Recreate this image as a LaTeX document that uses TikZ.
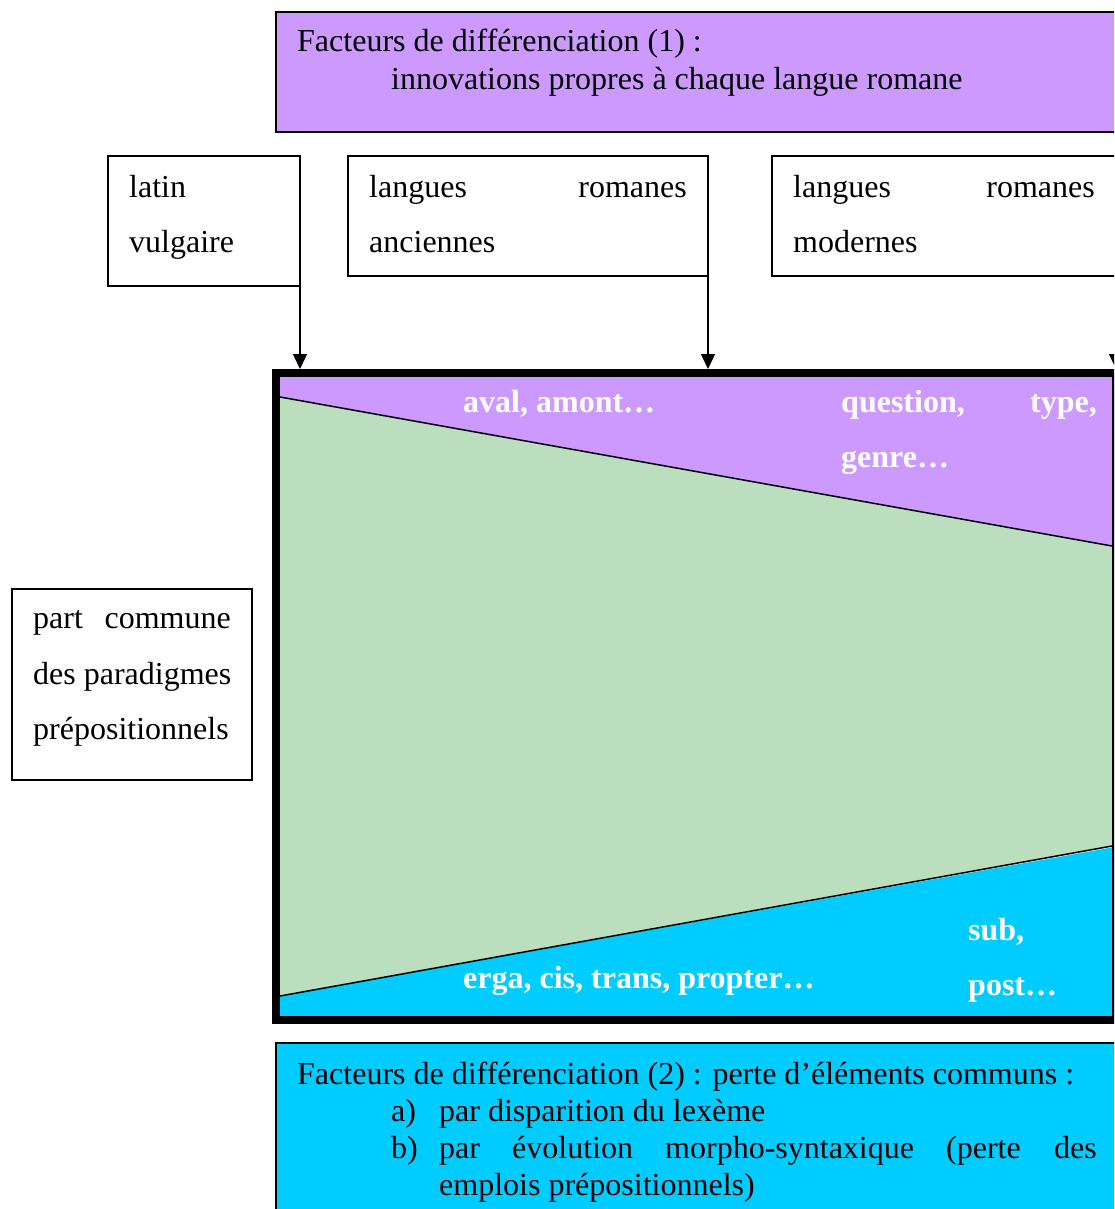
\documentclass[tikz,border=0pt]{standalone}
\usepackage{fontspec}
\setmainfont{Liberation Serif}
\usetikzlibrary{arrows.meta}
\definecolor{lilac}{HTML}{CC99FF}
\definecolor{paleg}{RGB}{187,222,191}
\definecolor{sky}{HTML}{00CCFF}
\tikzset{
  box/.style={draw=black, line width=1.5pt, anchor=north west, inner sep=0pt, outer sep=0pt},
  txt/.style={anchor=base west, inner sep=0pt, font=\fontsize{32}{38}\selectfont},
  txte/.style={anchor=base east, inner sep=0pt, font=\fontsize{32}{38}\selectfont},
  wb/.style={anchor=base west, inner sep=0pt, text=white, font=\fontsize{32}{38}\selectfont\bfseries},
  wbe/.style={anchor=base east, inner sep=0pt, text=white, font=\fontsize{32}{38}\selectfont\bfseries},
  arr/.style={draw=black, line width=1.5pt, -{Triangle[length=15pt,width=14pt]}},
}
\begin{document}
\begin{tikzpicture}[x=1pt,y=-1pt]
\useasboundingbox (0,0) rectangle (1114,1209);
\clip (0,0) rectangle (1114,1209);
\fill[white] (0,0) rectangle (1114,1209);

% top purple box
\node[box, fill=lilac, line width=2pt, minimum width=870pt, minimum height=120pt] (top) at (276,12) {};
\node[txt] (t1) at (297,52) {Facteurs de différenciation (1) :};
\node[txt] (t2) at (391,90) {innovations propres à chaque langue romane};

% three small boxes
\node[box, minimum width=192pt, minimum height=130pt] (latin) at (108,156) {};
\node[txt] (l1) at (129,197) {latin};
\node[txt] (l2) at (129,252) {vulgaire};

\node[box, minimum width=360pt, minimum height=120pt] (anc) at (348,156) {};
\node[txt] (a1) at (369,197) {langues};
\node[txte] (a2) at (687,197) {romanes};
\node[txt] (a3) at (369,252) {anciennes};

\node[box, minimum width=344pt, minimum height=120pt] (mod) at (772,156) {};
\node[txt] (m1) at (793,197) {langues};
\node[txte] (m2) at (1095,197) {romanes};
\node[txt] (m3) at (793,252) {modernes};

% main diagram
\coordinate (ftl) at (276,373);
\coordinate (fbr) at (1116,1020);
\fill[lilac] (280,377) rectangle (1120,560);
\fill[paleg] (280,397) -- (1112,546) -- (1112,846) -- (280,996) -- cycle;
\fill[sky] (280,996) -- (1120,846) -- (1120,1016) -- (280,1016) -- cycle;
\draw[line width=1.5pt] (280,397) -- (1112,546);
\draw[line width=1.5pt] (280,996) -- (1112,846);
\draw[line width=8pt] (ftl) rectangle (fbr);

\coordinate (e1) at (300,369);
\coordinate (e2) at (708,369);
\coordinate (e3) at (1116,369);
\draw[arr] (latin.south east) -- (e1);
\draw[arr] (anc.south east) -- (e2);
\draw[arr] (mod.south east) -- (e3);

\node[wb] (w1) at (463,412) {aval, amont…};
\node[wb] (w2) at (841,412) {question,};
\node[wbe] (w3) at (1097,412) {type,};
\node[wb] (w4) at (841,467) {genre…};
\node[wb] (w5) at (463,988) {erga, cis, trans, propter…};
\node[wb] (w6) at (968,940) {sub,};
\node[wb] (w7) at (968,995) {post…};

% left box
\node[box, minimum width=240pt, minimum height=191pt] (part) at (12,589) {};
\node[txt] (p1) at (33,628) {part};
\node[txte] (p2) at (231,628) {commune};
\node[txt] (p3) at (33,684) {des paradigmes};
\node[txt] (p4) at (33,739) {prépositionnels};

% bottom cyan box
\node[box, fill=sky, line width=2pt, minimum width=870pt, minimum height=200pt] (bot) at (276,1043) {};
\node[txt] (b1) at (297,1084) {Facteurs de différenciation (2) : perte d’éléments communs :};
\node[txt] (b2) at (391,1121) {a)};
\node[txt] (b3) at (439,1121) {par disparition du lexème};
\node[txt] (b4) at (391,1158) {b)};
\node[txt] (b5) at (439,1158) {par};
\node[txt] (b6) at (512,1158) {évolution};
\node[txt] (b7) at (665,1158) {morpho-syntaxique};
\node[txt] (b8) at (946,1158) {(perte};
\node[txte] (b9) at (1097,1158) {des};
\node[txt] (b10) at (439,1195) {emplois prépositionnels)};
\end{tikzpicture}
\end{document}
